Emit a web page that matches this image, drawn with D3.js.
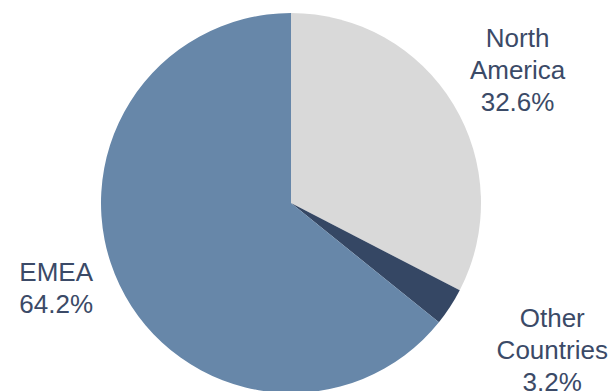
<!DOCTYPE html>
<html>
<head>
<meta charset="utf-8">
<script src="https://cdn.jsdelivr.net/npm/d3@7"></script>
<style>
  html, body { margin: 0; padding: 0; background: #fff; }
  svg { display: block; }
  .slice-label { font-family: "Liberation Sans", Arial, sans-serif; font-size: 26px; fill: #3b4a67; }
</style>
</head>
<body>
<svg id="chart" width="612" height="391"></svg>
<script>
// 地区收入占比饼图
const regions = ['North America', 'Other Countries', 'EMEA'];
const shares = [32.6, 3.2, 64.2];
const labelLines = [['North', 'America'], ['Other', 'Countries'], ['EMEA']];
const colors = ['#d9d9d9', '#354764', '#6787a9'];

const width = 612;
const height = 391;
const cx = 291;
const cy = 203;
const radius = 190;

const svg = d3.select('#chart');
const g = svg.append('g').attr('transform', `translate(${cx},${cy})`);

const data = regions.map((name, i) => ({ name, value: shares[i], lines: labelLines[i], color: colors[i] }));

const pie = d3.pie().value(d => d.value).sort(null);
const arc = d3.arc().innerRadius(0).outerRadius(radius);
const arcs = pie(data);

g.selectAll('.slice')
  .data(arcs)
  .join('path')
  .attr('class', 'slice')
  .attr('d', arc)
  .attr('fill', d => d.data.color);

// 标签位置：外圈弧的质心，再做少量偏移（仿 Excel 的放置）
const labelArc = d3.arc().innerRadius(257).outerRadius(257);
const nudges = { 'North America': [7, 0], 'Other Countries': [46, 6], 'EMEA': [-3, -26] };
const lineHeight = 32;

const labels = g.selectAll('.slice-label')
  .data(arcs)
  .join('text')
  .attr('class', 'slice-label')
  .attr('text-anchor', 'middle')
  .attr('transform', d => {
    const [x, y] = labelArc.centroid(d);
    const [dx, dy] = nudges[d.data.name];
    return `translate(${x + dx},${y + dy})`;
  });

labels.each(function (d) {
  const lines = [...d.data.lines, `${d3.format('.1f')(d.data.value)}%`];
  const t = d3.select(this);
  const start = -((lines.length - 1) / 2) * lineHeight;
  lines.forEach((line, i) => {
    t.append('tspan')
      .attr('x', 0)
      .attr('y', start + i * lineHeight)
      .attr('dy', '0.35em')
      .text(line);
  });
});
</script>
</body>
</html>
